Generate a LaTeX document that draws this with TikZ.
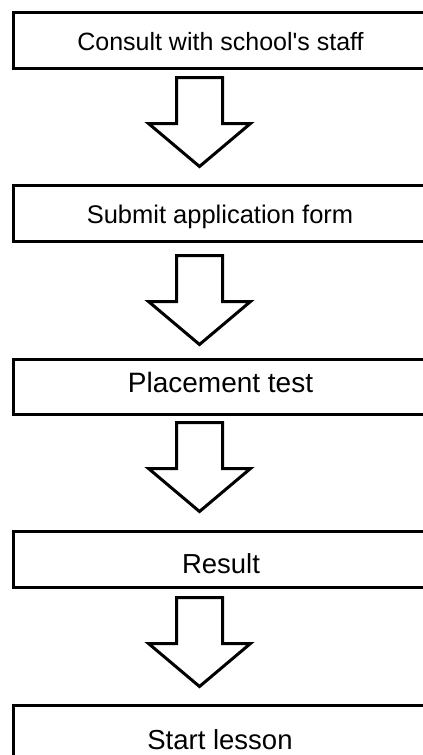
\documentclass[tikz,border=0pt]{standalone}
\usepackage{fontspec}
\setmainfont{Liberation Sans}
\begin{document}
\begin{tikzpicture}[x=1pt,y=-1pt,
  box/.style={draw=black, line width=3pt, anchor=north west, inner sep=0pt},
  lbl/.style={anchor=base, inner sep=0pt, font=\fontsize{#1}{30}\selectfont},
  lbl/.default=25,
  blk/.style={draw=black, line width=3pt, fill=white, line join=miter}]
\useasboundingbox (0,0) rectangle (423,755);
\clip (0,0) rectangle (423,755);
% boxes
\node[box, minimum width=416pt, minimum height=56pt] (b1) at (11.5,10.5) {};
\node[box, minimum width=416pt, minimum height=56pt] (b2) at (11.5,183.5) {};
\node[box, minimum width=416pt, minimum height=55pt] (b3) at (11.5,357.5) {};
\node[box, minimum width=416pt, minimum height=56pt] (b4) at (11.5,529.5) {};
\node[box, minimum width=416pt, minimum height=70pt] (b5) at (11.5,703.5) {};
% labels
\node[lbl=25] (t1) at (220.5,50) {Consult with school\textquotesingle s staff};
\node[lbl=25.5] (t2) at (220,223) {Submit application form};
\node[lbl=28] (t3) at (220.5,392) {Placement test};
\node[lbl=27.5] (t4) at (221,573) {Result};
\node[lbl=27.5] (t5) at (220,749) {Start lesson};
% arrows
\coordinate (a1) at (199.5,77.5);
\coordinate (a2) at (199.5,255.5);
\coordinate (a3) at (199.5,422.5);
\coordinate (a4) at (199.5,597.5);
\foreach \a in {a1,a2,a3,a4}{
  \draw[blk, shift={(\a)}] (-23,0) -- (23,0) -- (23,46) -- (51,46) -- (0,89) -- (-51,46) -- (-23,46) -- cycle;
}
\end{tikzpicture}
\end{document}
